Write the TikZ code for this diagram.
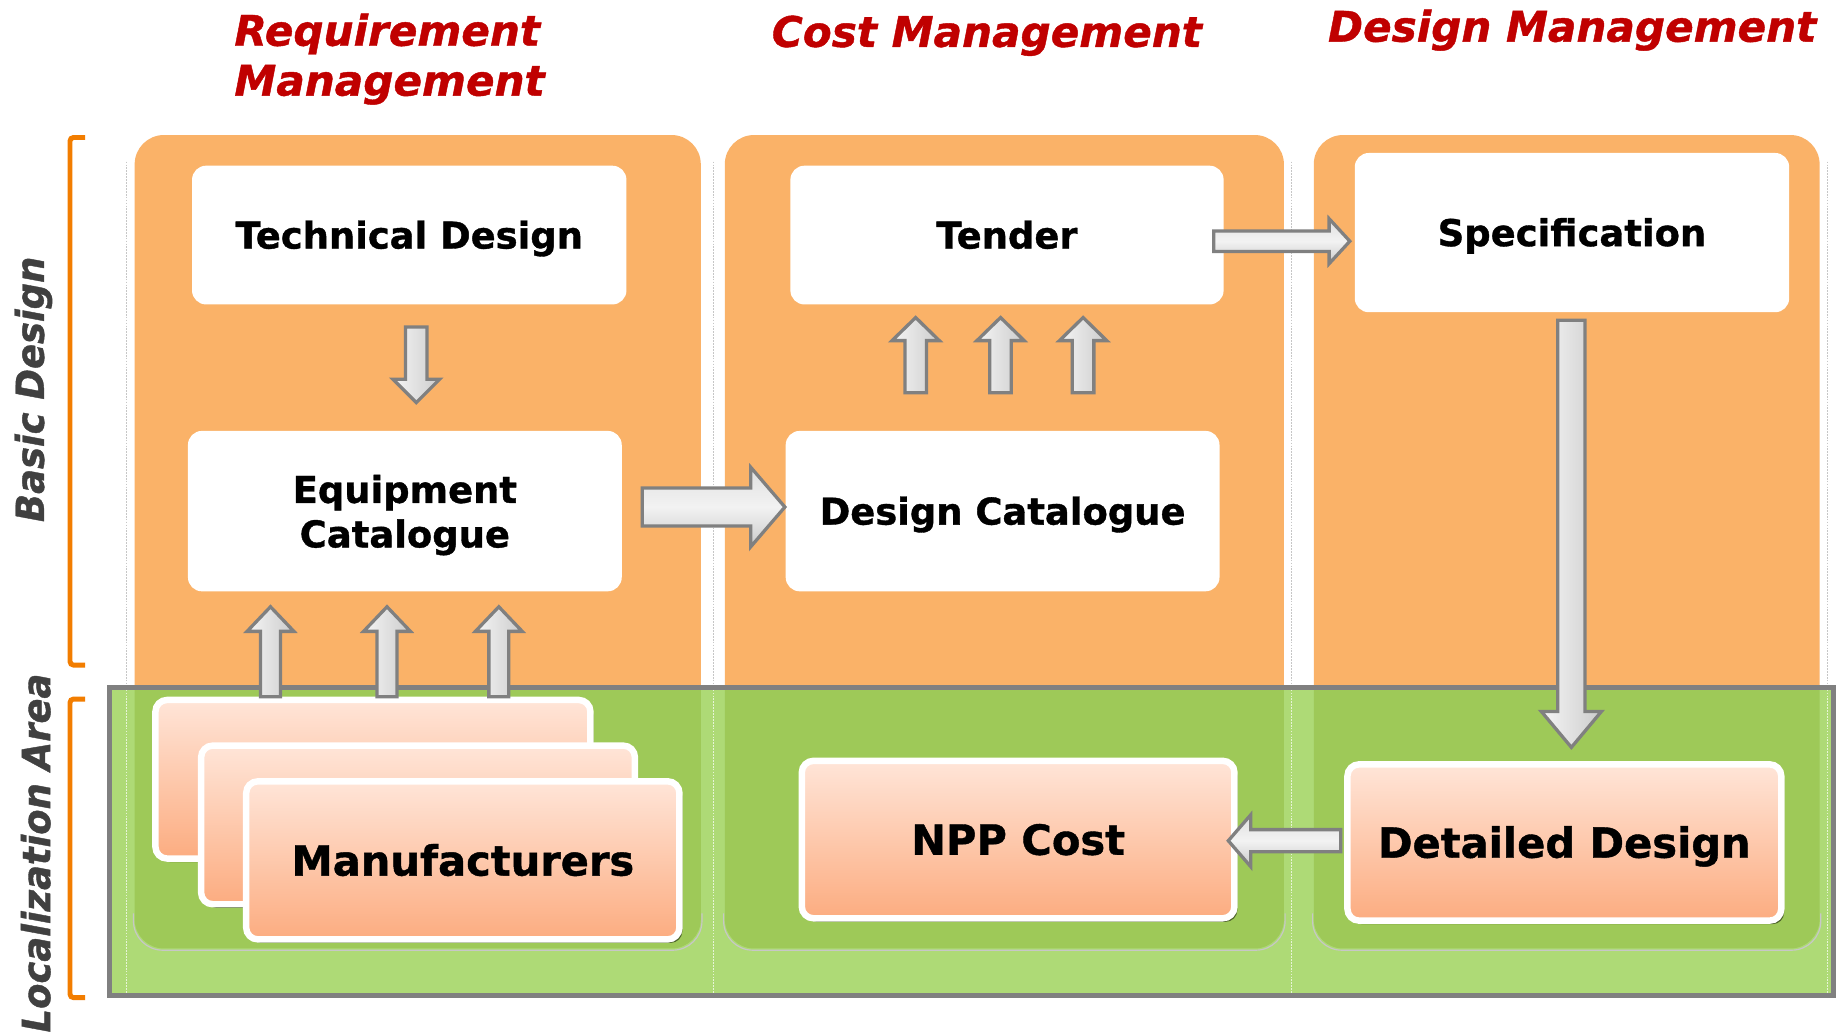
\documentclass[tikz,border=0pt]{standalone}
\usepackage{fontspec}
\setmainfont{DejaVu Sans}[BoldFeatures={FakeBold=1},BoldItalicFeatures={FakeBold=1}]
\newfontfamily\sidefont{DejaVu Sans}[FakeStretch=0.955,BoldItalicFeatures={FakeBold=1}]
\usetikzlibrary{calc,shadows}
\definecolor{panelor}{RGB}{250,178,104}
\definecolor{hdrred}{RGB}{192,0,0}
\definecolor{brkor}{RGB}{242,125,0}
\definecolor{grnD}{RGB}{158,201,88}
\definecolor{grnL}{RGB}{174,218,118}
\definecolor{arrgray}{RGB}{128,128,128}
\definecolor{salmonT}{RGB}{255,229,216}
\definecolor{salmonB}{RGB}{252,172,128}
\definecolor{sidegray}{RGB}{64,64,64}
\newcommand\blkarrow[6][]{%
  \coordinate (nk) at ($(#3)!#6!(#2)$);
  \path[#1] ($(#2)!#4!90:(#3)$) -- ($(nk)!#4!-90:(#2)$) -- ($(nk)!#5!-90:(#2)$) -- (#3)
    -- ($(nk)!#5!90:(#2)$) -- ($(nk)!#4!90:(#2)$) -- ($(#2)!#4!-90:(#3)$) -- cycle;}
\begin{document}
\begin{tikzpicture}[x=1pt,y=-1pt,
  wbox/.style={fill=white, rounded corners=12pt, inner sep=0pt, align=center,
    font=\fontsize{31.5}{38}\selectfont\bfseries},
  sbox/.style={draw=white, line width=5.5pt, rounded corners=10pt, top color=salmonT,
    bottom color=salmonB, inner sep=0pt, font=\fontsize{35.5}{42}\selectfont\bfseries,
    drop shadow={shadow xshift=2.5pt, shadow yshift=-3pt, fill=black, opacity=.5}},
  hdr/.style={text=hdrred, inner sep=0pt, align=left, font=\fontsize{36}{42.6}\selectfont\bfseries\itshape},
  side/.style={text=sidegray, inner sep=0pt, rotate=90, font=\sidefont\fontsize{33}{40}\selectfont\bfseries\itshape},
  blkv/.style={draw=arrgray, line width=2.8pt, line join=miter, left color=gray!8, right color=gray!40},
  blkh/.style={draw=arrgray, line width=2.8pt, line join=miter, top color=gray!25, bottom color=gray!42, middle color=gray!10},
  bracket/.style={draw=brkor, line width=4.2pt, rounded corners=3pt},
  vline/.style={draw=gray!45, line width=0.8pt, dash pattern=on 1.5pt off 1pt}
]
\useasboundingbox (0,0) rectangle (1568,884);
\fill[white] (0,0) rectangle (1568,884);

% headers
\node[hdr, anchor=north west] (h1) at (200,11.5) {Requirement\\Management};
\node[hdr, anchor=base west] (h2) at (659,40) {Cost Management};
\node[hdr, anchor=base west] (h3) at (1134,35.6) {Design Management};

% side labels and brackets
\node[side] (bd) at (28.5,332.5) {Basic Design};
\node[side] (la) at (30.5,728.5) {Localization Area};
\draw[bracket] (72.6,117.4) -- (59.8,117.4) -- (59.8,568) -- (72.6,568);
\draw[bracket] (72.6,597) -- (59.8,597) -- (59.8,852) -- (72.6,852);

% faint separators
\foreach \xx in {108,609,1103,1561} \draw[vline] (\xx,138) -- (\xx,585);

% orange columns
\fill[panelor, rounded corners=25pt] (115,700) rectangle (598.5,115.3);
\fill[panelor, rounded corners=25pt] (619,700) rectangle (1096.5,115.3);
\fill[panelor, rounded corners=25pt] (1122,700) rectangle (1554,115.3);

% green area
\fill[grnL] (93.5,587) rectangle (1566,850);
\begin{scope}
  \clip (93.5,589) rectangle (1566,850);
  \fill[grnD, rounded corners=25pt] (115,540) rectangle (598.5,810);
  \fill[grnD, rounded corners=25pt] (619,540) rectangle (1096.5,810);
  \fill[grnD, rounded corners=25pt] (1122,540) rectangle (1554,810);
  \foreach \la/\lb in {115/598.5,619/1096.5,1122/1554}
    \draw[black!22, line width=1pt, rounded corners=25pt] (\la-1,780) |- (\lb+1,811.5) -- (\lb+1,780);
  \foreach \xx in {108,609,1103,1561} \draw[vline, draw=white!70!grnL] (\xx,589) -- (\xx,848);
\end{scope}
\draw[draw=arrgray, line width=4pt] (93.5,587) rectangle (1566,850);

% white boxes
\node[wbox, minimum width=371pt, minimum height=118.5pt, text height=23pt, text depth=0pt] (td) at (349.5,200.75) {Technical Design};
\node[wbox, minimum width=370.5pt, minimum height=137pt, text depth=0pt] (eq) at (345.75,436.5) {Equipment\\Catalogue};
\node[wbox, minimum width=370pt, minimum height=118.5pt, text height=23pt, text depth=0pt] (tender) at (860,200.75) {Tender};
\node[wbox, minimum width=370.5pt, minimum height=137pt, text height=23pt, text depth=0pt] (dc) at (856.25,436.5) {Design Catalogue};
\node[wbox, minimum width=371pt, minimum height=136pt, text height=23pt, text depth=0pt] (spec) at (1342.5,198.65) {Specification};

% salmon boxes
\node[sbox, minimum width=371.5pt, minimum height=135.5pt] (man1) at (318.5,665.5) {};
\node[sbox, minimum width=370.5pt, minimum height=135.5pt] (man2) at (357,704.5) {};
\node[sbox, minimum width=370pt, minimum height=135pt, text height=26pt, text depth=0pt] (man3) at (395.25,734.75) {Manufacturers};
\node[sbox, minimum width=369.5pt, minimum height=134.5pt, text height=26pt, text depth=0pt] (npp) at (869.5,717) {NPP Cost};
\node[sbox, minimum width=370.5pt, minimum height=133.5pt, text height=26pt, text depth=0pt] (dd) at (1336,719.5) {Detailed Design};

% arrow end points
\coordinate (a0s) at ($(td.south)+(6,19)$);
\coordinate (a0e) at ($(eq.north)+(9.75,-24)$);
\coordinate (u1s) at ($(man1.north)+(-87.5,0)$);   \coordinate (u1e) at ($(eq.south)+(-114.75,13)$);
\coordinate (u2s) at ($(man1.north)+(12,0)$);      \coordinate (u2e) at ($(eq.south)+(-15.25,13)$);
\coordinate (u3s) at ($(man1.north)+(107.5,0)$);   \coordinate (u3e) at ($(eq.south)+(80.25,13)$);
\coordinate (t1s) at ($(dc.north)+(-74.25,-32.3)$); \coordinate (t1e) at ($(tender.south)+(-78,11)$);
\coordinate (t2s) at ($(dc.north)+(-1.75,-32.3)$);  \coordinate (t2e) at ($(tender.south)+(-5.5,11)$);
\coordinate (t3s) at ($(dc.north)+(68.75,-32.3)$);  \coordinate (t3e) at ($(tender.south)+(65,11)$);
\coordinate (bgs) at ($(eq.east)+(17.3,-3.5)$);    \coordinate (bge) at ($(dc.west)+(-0.5,-3.5)$);
\coordinate (tss) at ($(tender.east)+(-8.7,5.25)$); \coordinate (tse) at ($(spec.west)+(-4,7.35)$);
\coordinate (lds) at ($(spec.south)+(-0.5,6.7)$);  \coordinate (lde) at ($(dd.north)+(6,-11.75)$);
\coordinate (lfs) at ($(dd.west)+(-3,-1.5)$);      \coordinate (lfe) at ($(npp.east)+(-8,1)$);

% block arrows
\blkarrow[blkv]{a0s}{a0e}{9.2pt}{20pt}{20pt}
\blkarrow[blkv]{u1s}{u1e}{8.5pt}{20pt}{21pt}
\blkarrow[blkv]{u2s}{u2e}{8.5pt}{20pt}{21pt}
\blkarrow[blkv]{u3s}{u3e}{8.5pt}{20pt}{21pt}
\blkarrow[blkv]{t1s}{t1e}{9.2pt}{20.2pt}{19.7pt}
\blkarrow[blkv]{t2s}{t2e}{9.2pt}{20.2pt}{19.7pt}
\blkarrow[blkv]{t3s}{t3e}{9.2pt}{20.2pt}{19.7pt}
\blkarrow[blkh]{bgs}{bge}{16.2pt}{34pt}{29.2pt}
\blkarrow[blkh]{tss}{tse}{8.7pt}{19.2pt}{17.7pt}
\blkarrow[blkv]{lds}{lde}{11.7pt}{25.7pt}{30.7pt}
\blkarrow[blkh]{lfs}{lfe}{9.5pt}{22.2pt}{19.2pt}
\end{tikzpicture}
\end{document}
